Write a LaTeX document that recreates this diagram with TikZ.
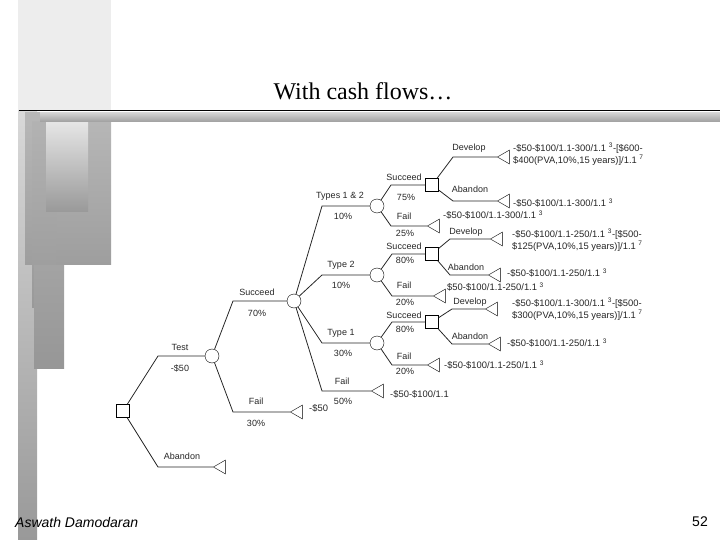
\documentclass[tikz,border=0pt]{standalone}
\usepackage{fontspec}
\setmainfont{Liberation Serif}
\setsansfont{Liberation Sans}
\usetikzlibrary{shapes.geometric}
\usetikzlibrary{calc}

\begin{document}
\begin{tikzpicture}[x=1pt,y=-1pt,
  every node/.style={font=\sffamily\fontsize{9}{12}\selectfont,text=black!85,inner sep=0pt},
  chance/.style={draw,circle,minimum size=14pt,fill=white},
  choice/.style={draw,rectangle,minimum size=13pt,fill=white},
  payoff/.style={draw,regular polygon,regular polygon sides=3,shape border rotate=90,minimum size=16pt,anchor=west},
  branch/.style={to path={-- ($(\tikztostart |- \tikztotarget)+(#1,0)$) -- (\tikztotarget) \tikztonodes}},
  cf/.style={anchor=west,align=left,font=\sffamily\fontsize{9.4}{12}\selectfont}]
\useasboundingbox (0,0) rectangle (720,540);
% slide background
\shade[top color=black!15,bottom color=black!40] (18,110) rectangle (37,540);
\fill[black!7] (18,0) rectangle (111,110);
\shade[top color=black!28,bottom color=black!38] (25,113) rectangle (111,264);
\shade[top color=black!30,bottom color=black!40] (32,122) rectangle (56,307);
\shade[top color=black!10,bottom color=black!40] (46,122) rectangle (88,212);
\shade[top color=black!36,bottom color=black!41] (34,265) rectangle (64,368);
\shade[top color=black!18,bottom color=black!38] (40,113) rectangle (720,122);
\draw[line width=1.5pt] (19,110.5) -- (720,110.5);
\node[font=\rmfamily\fontsize{24}{28}\selectfont,text=black,anchor=base] (title) at (363,100) {With cash flows…};
\node[font=\sffamily\itshape\fontsize{14}{16}\selectfont,text=black,anchor=west] (author) at (15,522) {Aswath Damodaran};
\node[font=\sffamily\fontsize{14}{16}\selectfont,text=black,anchor=east] (page) at (708,522) {52};
% decision and chance nodes
\node[choice] (root) at (123,411) {};
\node[chance] (c1) at (212,356) {};
\node[chance] (c2) at (294,301) {};
\node[chance] (c3) at (377,206) {};
\node[chance] (c4) at (377,275) {};
\node[chance] (c5) at (377,343) {};
\node[choice] (d1) at (432,185) {};
\node[choice] (d2) at (432,254) {};
\node[choice] (d3) at (432,322) {};
% end points
\node[payoff] (t0) at (213,467) {};
\node[payoff] (t1) at (290,412) {};
\node[payoff] (t2) at (371,391) {};
\node[payoff] (t3) at (427,226) {};
\node[payoff] (t4) at (497,157) {};
\node[payoff] (t5) at (497,201) {};
\node[payoff] (t6) at (433,296) {};
\node[payoff] (t7) at (490,239) {};
\node[payoff] (t8) at (488,275) {};
\node[payoff] (t9) at (427,365) {};
\node[payoff] (t10) at (485,309) {};
\node[payoff] (t11) at (488,344) {};
% branches
\begin{scope}[line width=0.8pt,black!85]
  \draw (root) to[branch=35] (c1) (root) to[branch=35] (t0);
  \draw (c1) to[branch=21] (c2) (c1) to[branch=21] (t1);
  \draw (c2) to[branch=28] (c3) (c2) to[branch=28] (c4) (c2) to[branch=28] (c5) (c2) to[branch=28] (t2);
  \draw (c3) to[branch=14] (d1) (c3) to[branch=14] (t3);
  \draw (c4) to[branch=15] (d2) (c4) to[branch=15] (t6);
  \draw (c5) to[branch=15] (d3) (c5) to[branch=15] (t9);
  \draw (d1) to[branch=21] (t4) (d1) to[branch=21] (t5);
  \draw (d2) to[branch=18] (t7) (d2) to[branch=18] (t8);
  \draw (d3) to[branch=20] (t10) (d3) to[branch=20] (t11);
\end{scope}
% branch labels
\node (test) at (180,347) {Test};
\node (testcost) at (180,368) {-\$50};
\node (aband0) at (182,456) {Abandon};
\node (succ1) at (257,292) {Succeed};
\node (succ1p) at (257,313) {70\%};
\node (fail1) at (256,401) {Fail};
\node (fail1p) at (256,423) {30\%};
\node (type12) at (340,196) {Types 1 \& 2};
\node (type12p) at (343,216) {10\%};
\node (type2) at (341,265) {Type 2};
\node (type2p) at (341,285) {10\%};
\node (type1) at (341,333) {Type 1};
\node (type1p) at (343,353) {30\%};
\node (fail2) at (342,381) {Fail};
\node (fail2p) at (343,401) {50\%};
\node (succ3) at (404,177) {Succeed};
\node (succ3p) at (406,197) {75\%};
\node (fail3) at (404,216) {Fail};
\node (fail3p) at (405,233) {25\%};
\node (succ4) at (404,246) {Succeed};
\node (succ4p) at (405,260) {80\%};
\node (fail4) at (404,285) {Fail};
\node (fail4p) at (405,302) {20\%};
\node (succ5) at (404,315) {Succeed};
\node (succ5p) at (405,329) {80\%};
\node (fail5) at (404,356) {Fail};
\node (fail5p) at (405,371) {20\%};
\node (dev1) at (469,148) {Develop};
\node (aband1) at (470,189) {Abandon};
\node (dev2) at (466,232) {Develop};
\node (aband2) at (466,267) {Abandon};
\node (dev3) at (470,302) {Develop};
\node (aband3) at (470,336) {Abandon};
% cash flows
\node[cf] (cf1) at (309,408) {-\$50};
\node[cf] (cf2) at (390,394) {-\$50-\$100/1.1};
\node[cf] (cf3) at (443,215) {-\$50-\$100/1.1-300/1.1 \textsuperscript{3}};
\node[cf] (cf4) at (513,154) {-\$50-\$100/1.1-300/1.1 \textsuperscript{3}-[\$600-\\ \$400(PVA,10\%,15 years)]/1.1 \textsuperscript{7}};
\node[cf] (cf5) at (513,203) {-\$50-\$100/1.1-300/1.1 \textsuperscript{3}};
\node[cf] (cf6) at (447,287) {\$50-\$100/1.1-250/1.1 \textsuperscript{3}};
\node[cf] (cf7) at (512,240) {-\$50-\$100/1.1-250/1.1 \textsuperscript{3}-[\$500-\\ \$125(PVA,10\%,15 years)]/1.1 \textsuperscript{7}};
\node[cf] (cf8) at (507,273) {-\$50-\$100/1.1-250/1.1 \textsuperscript{3}};
\node[cf] (cf9) at (444,365) {-\$50-\$100/1.1-250/1.1 \textsuperscript{3}};
\node[cf] (cf10) at (512,309) {-\$50-\$100/1.1-300/1.1 \textsuperscript{3}-[\$500-\\ \$300(PVA,10\%,15 years)]/1.1 \textsuperscript{7}};
\node[cf] (cf11) at (507,343) {-\$50-\$100/1.1-250/1.1 \textsuperscript{3}};
\end{tikzpicture}
\end{document}
